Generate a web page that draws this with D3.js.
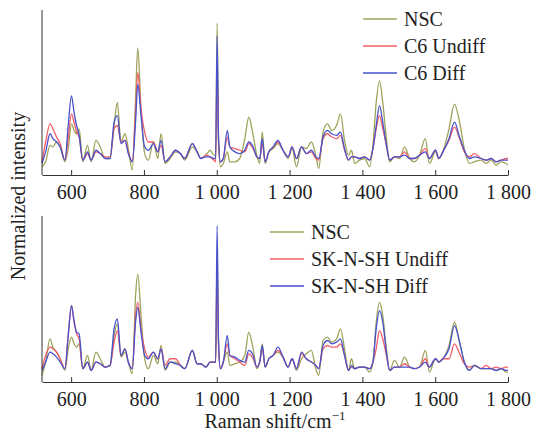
<!DOCTYPE html>
<html>
<head>
<meta charset="utf-8">
<script src="https://cdn.jsdelivr.net/npm/d3@7"></script>
<style>
  body { margin: 0; background: #fff; }
  svg text { font-family: "Liberation Serif", "DejaVu Serif", serif; fill: #222; }
</style>
</head>
<body>
<svg class="grafico-d3-svg"></svg>
<script>
const W = 536, H = 435;

// raman shift grid (cm-1)
const wavenumber = [
  520, 530, 542, 550, 560, 570, 583, 592, 601, 608,
  615, 622, 632, 645, 655, 668, 680, 693, 707, 718,
  727, 737, 748, 757, 768, 777, 783, 792, 802, 812,
  826, 838, 847, 858, 872, 887, 900, 912, 933, 946,
  956, 970, 982, 992, 997, 1001, 1005, 1010, 1018, 1029,
  1036, 1050, 1063, 1077, 1088, 1100, 1110, 1118, 1125, 1133,
  1143, 1155, 1168, 1182, 1196, 1207, 1219, 1233, 1246, 1260,
  1272, 1280, 1292, 1304, 1316, 1329, 1340, 1351, 1362, 1370,
  1379, 1392, 1406, 1420, 1429, 1438, 1447, 1456, 1466, 1475,
  1488, 1502, 1516, 1530, 1543, 1557, 1573, 1584, 1601, 1610,
  1621, 1638, 1653, 1667, 1680, 1694, 1708, 1726, 1740, 1754,
  1767, 1781, 1795, 1800
];

// painel de cima: NSC x C6
const top_nsc = [
  5, 8, 18, 17, 20, 17, 8, 16, 31, 27,
  25, 28, 8, 18, 8, 21, 17, 10, 10, 30,
  44, 20, 25, 16, 3, 46, 77, 40, 13, 9,
  20, 10, 25, 7, 10, 14, 13, 9, 17, 14,
  10, 12, 15, 12, 12, 92, 20, 5, 7, 14,
  8, 8, 10, 22, 35, 24, 12, 7, 26, 7,
  14, 16, 19, 15, 10, 16, 5, 17, 16, 20,
  12, 4, 26, 31, 27, 30, 37, 21, 12, 15,
  7, 9, 10, 5, 18, 44, 57, 44, 22, 8,
  11, 10, 17, 10, 8, 12, 22, 7, 14, 10,
  14, 28, 43, 32, 16, 7, 8, 9, 7, 9,
  6, 8, 7, 6
];
const top_undiff = [
  8, 20, 31, 28, 23, 19, 9, 22, 37, 32,
  26, 23, 9, 13, 9, 14, 13, 11, 11, 28,
  30, 20, 21, 14, 8, 38, 62, 40, 26, 20,
  20, 14, 18, 8, 11, 15, 13, 10, 19, 14,
  10, 12, 11, 9, 8, 64, 20, 8, 10, 23,
  17, 16, 15, 14, 19, 16, 11, 10, 19, 8,
  14, 17, 20, 15, 11, 17, 10, 17, 13, 14,
  10, 9, 22, 25, 23, 22, 24, 15, 9, 11,
  11, 10, 11, 9, 16, 28, 36, 28, 18, 9,
  11, 11, 14, 10, 10, 12, 16, 10, 15, 10,
  14, 21, 29, 22, 14, 11, 13, 10, 9, 10,
  8, 9, 10, 10
];
const top_diff = [
  7, 14, 25, 22, 20, 17, 9, 30, 48, 38,
  30, 24, 9, 14, 9, 15, 13, 10, 10, 32,
  36, 19, 21, 13, 8, 32, 55, 36, 17, 15,
  19, 14, 21, 8, 11, 15, 13, 10, 19, 14,
  10, 11, 11, 10, 10, 84, 22, 8, 10, 27,
  17, 14, 13, 15, 20, 17, 11, 10, 22, 8,
  14, 17, 21, 15, 11, 17, 10, 17, 13, 15,
  11, 10, 23, 27, 25, 24, 26, 16, 9, 11,
  11, 10, 11, 9, 16, 30, 42, 32, 18, 9,
  11, 11, 12, 10, 10, 12, 14, 10, 15, 10,
  14, 22, 32, 23, 15, 10, 11, 10, 9, 10,
  8, 9, 9, 9
];

// painel de baixo: NSC x SK-N-SH
const bot_nsc = [
  4, 12, 26, 21, 18, 14, 7, 20, 27, 23,
  21, 23, 8, 16, 7, 18, 14, 9, 10, 28,
  35, 15, 18, 12, 5, 52, 65, 40, 14, 8,
  16, 11, 22, 7, 12, 12, 10, 8, 19, 11,
  11, 9, 12, 12, 12, 78, 22, 8, 12, 18,
  10, 11, 12, 16, 30, 20, 8, 12, 23, 9,
  14, 16, 18, 15, 9, 14, 7, 14, 17, 19,
  8, 4, 25, 27, 24, 26, 32, 20, 7, 14,
  8, 9, 9, 6, 12, 36, 48, 40, 20, 7,
  13, 9, 15, 9, 8, 9, 19, 6, 14, 12,
  14, 22, 36, 24, 12, 7, 10, 8, 8, 8,
  7, 8, 6, 6
];
const bot_undiff = [
  8, 16, 21, 20, 18, 14, 8, 28, 46, 36,
  29, 26, 8, 12, 7, 12, 11, 9, 10, 24,
  31, 16, 20, 12, 8, 40, 48, 32, 20, 15,
  18, 14, 20, 10, 14, 14, 10, 8, 19, 11,
  11, 9, 12, 12, 12, 65, 22, 8, 12, 23,
  16, 14, 12, 10, 17, 14, 9, 12, 20, 9,
  14, 16, 19, 15, 9, 14, 8, 17, 14, 12,
  10, 8, 20, 22, 21, 21, 23, 16, 7, 9,
  8, 9, 9, 8, 12, 20, 31, 26, 16, 7,
  9, 9, 11, 9, 8, 9, 14, 9, 14, 12,
  14, 14, 23, 17, 11, 9, 10, 8, 10, 8,
  9, 8, 9, 9
];
const bot_diff = [
  7, 12, 18, 17, 15, 12, 8, 28, 46, 37,
  30, 29, 8, 12, 7, 12, 11, 9, 10, 32,
  38, 16, 20, 12, 8, 36, 45, 30, 16, 14,
  18, 14, 20, 8, 12, 11, 10, 8, 19, 11,
  11, 9, 12, 12, 12, 94, 24, 8, 12, 28,
  16, 15, 13, 12, 19, 16, 9, 12, 22, 9,
  14, 16, 21, 15, 9, 14, 8, 18, 14, 12,
  10, 8, 22, 25, 23, 24, 26, 16, 7, 10,
  8, 9, 9, 8, 12, 32, 43, 36, 18, 7,
  9, 9, 9, 9, 8, 9, 12, 9, 14, 12,
  14, 20, 34, 24, 12, 7, 10, 8, 8, 8,
  7, 8, 7, 7
];

const x_ticks = [600, 800, 1000, 1200, 1400, 1600, 1800];
const top_labels = ["NSC", "C6 Undiff", "C6 Diff"];
const bot_labels = ["NSC", "SK-N-SH Undiff", "SK-N-SH Diff"];
const cores = ["#9fa35a", "#f25f66", "#4752cc"];

const X0 = 42, X1 = 508;

const $svg = d3.select(".grafico-d3-svg")
  .attr("width", W)
  .attr("height", H);

const scale_X = d3.scaleLinear()
  .domain([520, 1800])
  .range([X0, X1]);

const fmt = d => d >= 1000 ? Math.floor(d / 1000) + " " + d3.format("03d")(d % 1000) : "" + d;

const render_painel = function(series, labels, y_bottom, y_top, leg) {
  const scale_Y = d3.scaleLinear()
    .domain([0, 100])
    .range([y_bottom, y_top]);

  const linha = d3.line()
    .x((d, i) => scale_X(wavenumber[i]))
    .y(d => scale_Y(d))
    .curve(d3.curveMonotoneX);

  const g = $svg.append("g");

  series.forEach((s, k) => {
    g.append("path")
      .datum(s)
      .attr("d", linha)
      .attr("fill", "none")
      .attr("stroke", cores[k])
      .attr("stroke-width", 1.3)
      .attr("stroke-linejoin", "round");
  });

  // eixo x, ticks pra dentro
  const eixo = d3.axisBottom(scale_X)
    .tickValues(x_ticks)
    .tickFormat(fmt)
    .tickSizeInner(-5)
    .tickSizeOuter(0);

  const gx = g.append("g")
    .attr("transform", `translate(0,${y_bottom})`)
    .call(eixo);
  gx.select(".domain").attr("stroke", "#333");
  gx.selectAll(".tick line").attr("stroke", "#333");
  gx.selectAll(".tick text")
    .attr("y", 24)
    .attr("dy", 0)
    .style("font-family", '"Liberation Serif", serif')
    .style("font-size", "20px")
    .attr("fill", "#222");

  // eixo y sem ticks
  g.append("line")
    .attr("x1", X0).attr("x2", X0)
    .attr("y1", y_top).attr("y2", y_bottom)
    .attr("stroke", "#333");

  // legenda
  labels.forEach((t, k) => {
    const yy = Math.round(leg.y + k * leg.dy);
    g.append("line")
      .attr("x1", leg.x).attr("x2", leg.x + 34)
      .attr("y1", yy - 7).attr("y2", yy - 7)
      .attr("stroke", cores[k])
      .attr("stroke-width", 1.3);
    g.append("text")
      .attr("x", leg.x + 41)
      .attr("y", yy)
      .style("font-size", "20px")
      .text(t);
  });
};

render_painel([top_nsc, top_undiff, top_diff], top_labels, 175, 10, {x: 363, y: 26, dy: 27});
render_painel([bot_nsc, bot_undiff, bot_diff], bot_labels, 382, 216, {x: 270, y: 239, dy: 27});

$svg.append("text")
  .attr("x", (X0 + X1) / 2)
  .attr("y", 428)
  .attr("text-anchor", "middle")
  .style("font-size", "20px")
  .text("Raman shift/cm")
  .append("tspan")
  .attr("dy", -8)
  .style("font-size", "13px")
  .text("\u22121");

$svg.append("text")
  .attr("transform", "translate(25,196) rotate(-90)")
  .attr("text-anchor", "middle")
  .style("font-size", "20px")
  .text("Normalized intensity");
</script>
</body>
</html>
